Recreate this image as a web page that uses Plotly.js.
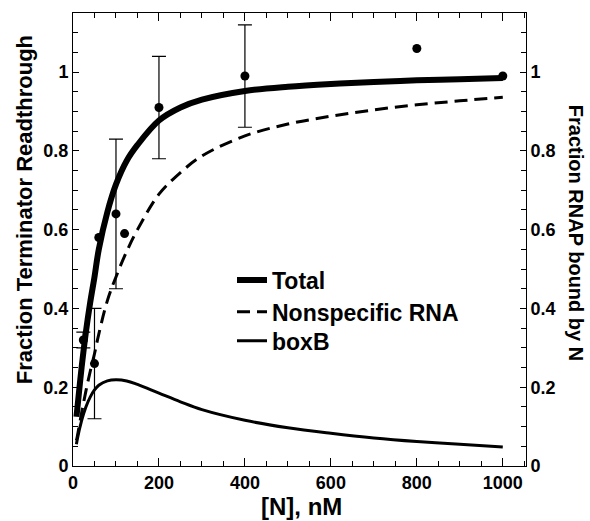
<!DOCTYPE html>
<html>
<head>
<meta charset="utf-8">
<script src="https://cdn.plot.ly/plotly-3.0.1.min.js"></script>
<style>html,body{margin:0;padding:0;background:#fff;}#chart{width:590px;height:521px;}</style>
</head>
<body>
<div id="chart"></div>
<script>
// Model curves
const nM = [8, 10, 20, 30, 40, 50, 60, 80, 100, 125, 150, 200, 250, 300, 400, 500, 600, 700, 800, 900, 1000];
const total = [0.125, 0.145, 0.25, 0.34, 0.415, 0.48, 0.55, 0.645, 0.715, 0.775, 0.815, 0.877, 0.91, 0.93, 0.952, 0.963, 0.970, 0.975, 0.979, 0.982, 0.985];
const nonspecific = [0.065, 0.075, 0.135, 0.19, 0.24, 0.285, 0.335, 0.42, 0.48, 0.545, 0.60, 0.69, 0.745, 0.787, 0.838, 0.868, 0.888, 0.904, 0.917, 0.927, 0.936];
const boxB = [0.055, 0.068, 0.115, 0.15, 0.175, 0.193, 0.205, 0.216, 0.219, 0.216, 0.207, 0.185, 0.163, 0.143, 0.116, 0.097, 0.083, 0.071, 0.062, 0.055, 0.048];

// Measured readthrough
const obsN = [24, 50, 60, 100, 120, 200, 400, 800, 1000];
const obsY = [0.32, 0.26, 0.58, 0.64, 0.59, 0.91, 0.99, 1.06, 0.99];
const obsErr = [0.02, 0.14, null, 0.19, null, 0.13, 0.13, null, null];

const xTicks = [0, 200, 400, 600, 800, 1000];
const yTicks = [0, 0.2, 0.4, 0.6, 0.8, 1];
const yTickText = ['0', '0.2', '0.4', '0.6', '0.8', '1'];

const FF = 'Liberation Sans, Arial, Helvetica, sans-serif';

const withErr = obsN.map((x, i) => i).filter(i => obsErr[i] !== null);
const noErr = obsN.map((x, i) => i).filter(i => obsErr[i] === null);

const traces = [
  {x: nM, y: total, yaxis: 'y2', type: 'scatter', mode: 'lines', name: 'Total', legend: 'legend',
   line: {color: '#000', width: 6, shape: 'spline'}},
  {x: nM, y: nonspecific, yaxis: 'y2', type: 'scatter', mode: 'lines', name: 'Nonspecific RNA', legend: 'legend2',
   line: {color: '#000', width: 3, dash: '13px,7px', shape: 'spline'}},
  {x: nM, y: boxB, yaxis: 'y2', type: 'scatter', mode: 'lines', name: 'boxB', legend: 'legend3',
   line: {color: '#000', width: 3, shape: 'spline'}},
  {x: withErr.map(i => obsN[i]), y: withErr.map(i => obsY[i]), type: 'scatter', mode: 'markers',
   showlegend: false, marker: {color: '#000', size: 9},
   error_y: {type: 'data', array: withErr.map(i => obsErr[i]), visible: true, color: '#000', thickness: 1.2, width: 7}},
  {x: noErr.map(i => obsN[i]), y: noErr.map(i => obsY[i]), type: 'scatter', mode: 'markers',
   showlegend: false, marker: {color: '#000', size: 9}}
];

const tickFont = {family: FF, size: 18, color: '#000', weight: 'bold'};
const yCommon = {
  range: [0, 1.15], tickvals: yTicks, ticktext: yTickText, ticks: 'inside', ticklen: 6, tickwidth: 1,
  tickcolor: '#000', showline: true, linecolor: '#000', linewidth: 1, showgrid: false, zeroline: false,
  tickfont: tickFont, minor: {tick0: 0, dtick: 0.05, ticks: 'inside', ticklen: 5, tickwidth: 1, tickcolor: '#000', showgrid: false}
};

const legFont = {family: FF, size: 23, color: '#000', weight: 'bold'};
function leg(y) {
  return {x: 0.351, y: y, xanchor: 'left', yanchor: 'middle', bgcolor: 'rgba(0,0,0,0)',
          borderwidth: 0, font: legFont};
}

const layout = {
  width: 590, height: 521,
  margin: {l: 73, r: 64, t: 13, b: 55},
  paper_bgcolor: '#fff', plot_bgcolor: '#fff',
  font: {family: FF, color: '#000'},
  showlegend: true,
  legend: leg(0.4106),
  legend2: leg(0.3406),
  legend3: leg(0.2766),
  xaxis: {
    range: [0, 1054], tickvals: xTicks, ticks: 'inside', ticklen: 8, tickwidth: 1, tickcolor: '#000',
    showline: true, linecolor: '#000', linewidth: 1, mirror: 'ticks', showgrid: false, zeroline: false,
    tickfont: tickFont,
    minor: {tick0: 0, dtick: 50, ticks: 'inside', ticklen: 5, tickwidth: 1, tickcolor: '#000', showgrid: false}
  },
  yaxis: Object.assign({}, yCommon, {side: 'left'}),
  yaxis2: Object.assign({}, yCommon, {side: 'right', overlaying: 'y'}),
  annotations: [
    {text: 'Fraction Terminator Readthrough', xref: 'paper', yref: 'paper', x: -0.108, y: 0.565,
     xanchor: 'center', yanchor: 'middle', textangle: -90, showarrow: false,
     font: {family: FF, size: 22, color: '#000', weight: 'bold'}},
    {text: 'Fraction RNAP bound by N', xref: 'paper', yref: 'paper', x: 1.111, y: 0.514,
     xanchor: 'center', yanchor: 'middle', textangle: 90, showarrow: false,
     font: {family: FF, size: 20, color: '#000', weight: 'bold'}},
    {text: '[N], nM', xref: 'paper', yref: 'paper', x: 0.5055, y: -0.0905,
     xanchor: 'center', yanchor: 'middle', showarrow: false,
     font: {family: FF, size: 24, color: '#000', weight: 'bold'}}
  ]
};

Plotly.newPlot('chart', traces, layout, {staticPlot: true, displayModeBar: false});
</script>
</body>
</html>
